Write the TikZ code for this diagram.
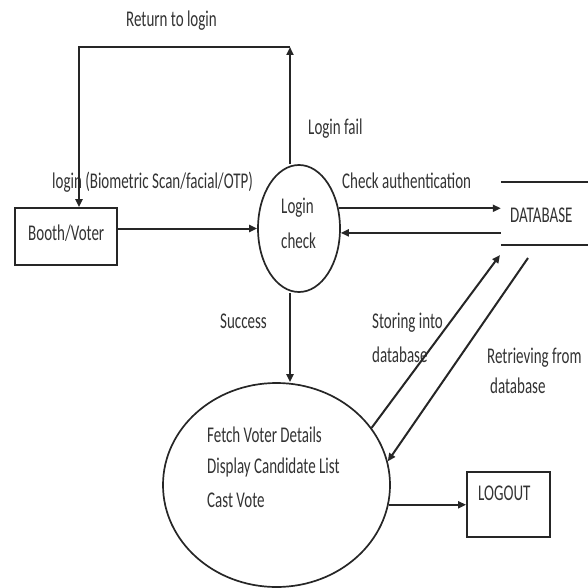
\documentclass[tikz,border=0pt]{standalone}
\usepackage{fontspec}
\usepackage{graphicx}
\setmainfont{Carlito}
\usetikzlibrary{shapes.geometric,arrows.meta}
\newcommand{\tx}[1]{\scalebox{1}[1.5]{#1}}
\begin{document}
\begin{tikzpicture}[x=1pt,y=-1pt,
  lbl/.style={anchor=base west,inner sep=0pt,text=black!80,font=\fontsize{15}{18}\selectfont},
  line/.style={line width=2pt,draw=black!85},
  arr/.style={line,-{Triangle[length=8pt,width=7pt]}},
  proc/.style={ellipse,draw=black!85,line width=1.7pt,inner sep=0pt},
  boxx/.style={rectangle,draw=black!85,line width=1.8pt,inner sep=0pt}]
\useasboundingbox (0,0) rectangle (588,588);
% nodes
\node[boxx,minimum width=102pt,minimum height=57pt] (bv) at (66,236.5) {};
\node[lbl] (bvt) at (28,240) {\tx{Booth/Voter}};
\node[proc,minimum width=82pt,minimum height=127pt] (lc) at (299,228.5) {};
\node[lbl] (lct1) at (281,213) {\tx{Login}};
\node[lbl] (lct2) at (281,248) {\tx{check}};
\node[minimum width=87pt,minimum height=63pt,inner sep=0pt] (db) at (544.5,213.5) {};
\draw[line] (db.north west) -- (db.north east);
\draw[line] (db.south west) -- (db.south east);
\node[lbl] (dbt) at (510,222) {\tx{DATABASE}};
\node[proc,minimum width=227pt,minimum height=204pt] (fv) at (276.5,485) {};
\node[lbl] (v1) at (207,442) {\tx{Fetch Voter Details}};
\node[lbl] (v2) at (207,473) {\tx{Display Candidate List}};
\node[lbl] (v3) at (207,507) {\tx{Cast Vote}};
\node[boxx,minimum width=83pt,minimum height=65pt] (lo) at (508.5,504.5) {};
\node[lbl] (lot) at (478,500) {\tx{LOGOUT}};
% labels
\node[lbl] (rtl) at (126,27) {\tx{Return to login}};
\node[lbl] (lgl) at (52,188) {\tx{login (Biometric Scan/facial/OTP)}};
\node[lbl] (lf) at (308,135) {\tx{Login fail}};
\node[lbl] (ca) at (342,188) {\tx{Check authentication}};
\node[lbl] (succ) at (220,328) {\tx{Success}};
\node[lbl] (st1) at (372,328) {\tx{Storing into}};
\node[lbl] (st2) at (372,362) {\tx{database}};
\node[lbl] (rt1) at (487,363) {\tx{Retrieving from}};
\node[lbl] (rt2) at (490,393) {\tx{database}};
% coordinates
\coordinate (tr) at (290,47);
\coordinate (tl) at (79,47);
\coordinate (sto) at (500,255);
\coordinate (ret) at (528,258);
% connectors
\draw[arr] ([xshift=-9pt]lc.north) -- (tr);
\draw[arr] (tr) -- (tl) -- (tl |- bv.north);
\draw[arr] (bv.east |- lc.west) -- (lc.west);
\draw[arr] (lc.27) -- (lc.27 -| db.west);
\draw[arr] (lc.354 -| db.west) -- (lc.354);
\draw[arr] ([xshift=-9pt]lc.south) -- ([xshift=-9pt]lc.south |- fv.north);
\draw[arr] (fv.31) -- (sto);
\draw[arr] (ret) -- (fv.12);
\draw[arr] (fv.350) -- (fv.350 -| lo.west);
\end{tikzpicture}
\end{document}
